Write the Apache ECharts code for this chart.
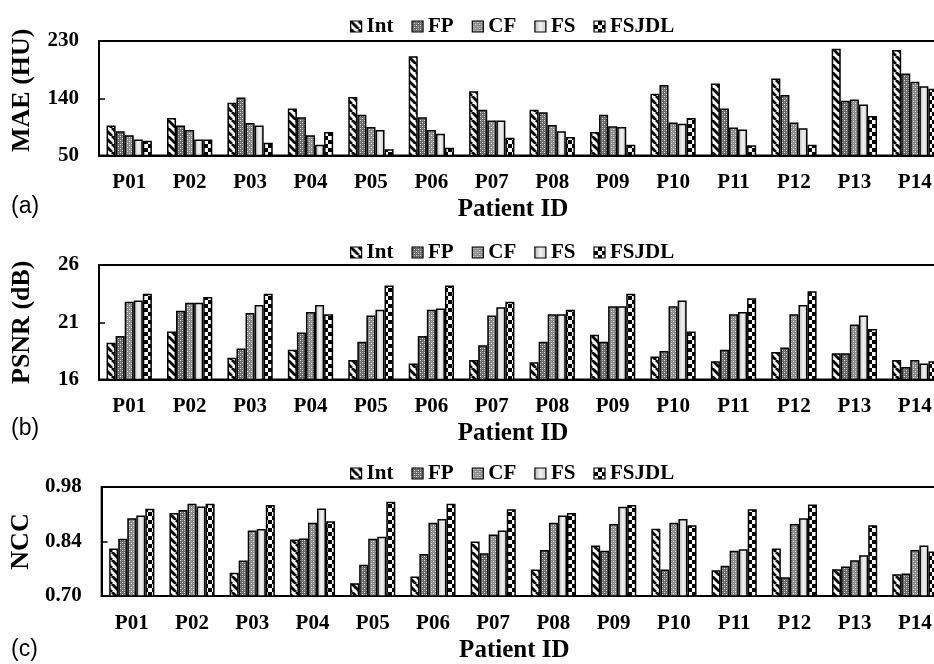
<!DOCTYPE html>
<html>
<head>
<meta charset="utf-8">
<script src="https://cdn.jsdelivr.net/npm/echarts@6/dist/echarts.min.js"></script>
<style>
html,body{margin:0;padding:0;background:#fff;overflow:hidden;width:934px;height:664px;}
#chart{width:960px;height:664px;}
</style>
</head>
<body>
<div id="chart"></div>
<script>
// ---- data ----
const categories = ['P01','P02','P03','P04','P05','P06','P07','P08','P09','P10','P11','P12','P13','P14'];
const methods = ['Int','FP','CF','FS','FSJDL'];

const maeInt   = [97, 109, 133, 124, 142, 206, 151, 122, 87, 147, 163, 171, 218, 216];
const maeFP    = [88, 97, 141, 110, 114, 110, 122, 118, 114, 161, 124, 145, 136, 179];
const maeCF    = [82, 90, 101, 82, 95, 90, 105, 98, 96, 102, 94, 102, 138, 166];
const maeFS    = [75, 75, 97, 67, 90, 84, 105, 88, 95, 100, 91, 93, 130, 159];
const maeFSJDL = [73, 75, 70, 87, 60, 62, 78, 79, 67, 109, 66, 67, 112, 155];

const psnrInt   = [19.2, 20.2, 17.9, 18.6, 17.7, 17.4, 17.7, 17.5, 19.9, 18.0, 17.6, 18.4, 18.3, 17.7];
const psnrFP    = [19.8, 22.0, 18.7, 20.1, 19.3, 19.8, 19.0, 19.3, 19.3, 18.5, 18.6, 18.8, 18.3, 17.1];
const psnrCF    = [22.8, 22.7, 21.8, 21.9, 21.6, 22.1, 21.6, 21.7, 22.4, 22.4, 21.7, 21.7, 20.8, 17.7];
const psnrFS    = [22.9, 22.7, 22.5, 22.5, 22.1, 22.2, 22.3, 21.7, 22.4, 22.9, 21.9, 22.5, 21.6, 17.4];
const psnrFSJDL = [23.5, 23.2, 23.5, 21.7, 24.2, 24.2, 22.8, 22.1, 23.5, 20.2, 23.1, 23.7, 20.4, 17.6];

const nccInt   = [0.822, 0.913, 0.760, 0.845, 0.733, 0.750, 0.840, 0.768, 0.830, 0.873, 0.766, 0.822, 0.769, 0.756];
const nccFP    = [0.847, 0.921, 0.791, 0.848, 0.780, 0.808, 0.810, 0.818, 0.816, 0.768, 0.778, 0.748, 0.776, 0.758];
const nccCF    = [0.900, 0.937, 0.868, 0.888, 0.847, 0.888, 0.858, 0.888, 0.885, 0.888, 0.816, 0.885, 0.792, 0.818];
const nccFS    = [0.907, 0.930, 0.872, 0.925, 0.852, 0.898, 0.868, 0.907, 0.929, 0.898, 0.820, 0.900, 0.805, 0.830];
const nccFSJDL = [0.924, 0.937, 0.934, 0.892, 0.942, 0.937, 0.923, 0.913, 0.934, 0.882, 0.923, 0.935, 0.882, 0.814];

const maeTicks  = [50, 140, 230];
const psnrTicks = [16, 21, 26];
const nccTicks  = [0.70, 0.84, 0.98];

const panelNames = ['MAE (HU)', 'PSNR (dB)', 'NCC'];
const panelTags = ['(a)', '(b)', '(c)'];

// ---- patterns ----
function tile(w, h, draw) {
  const c = document.createElement('canvas');
  c.width = w; c.height = h;
  const ctx = c.getContext('2d');
  draw(ctx);
  return {image: c, repeat: 'repeat'};
}
const patInt = tile(8, 8, ctx => {
  ctx.fillStyle = '#fff'; ctx.fillRect(0,0,8,8);
  ctx.strokeStyle = '#000'; ctx.lineWidth = 2.8;
  for (let k = -1; k <= 1; k++) {
    ctx.beginPath(); ctx.moveTo(k*8, 0); ctx.lineTo(k*8 + 8, 8); ctx.stroke();
  }
});
const patFP = tile(4, 4, ctx => {
  ctx.fillStyle = '#676767'; ctx.fillRect(0,0,4,4);
  ctx.fillStyle = '#e6e6e6'; ctx.fillRect(0,0,1,1); ctx.fillRect(2,2,1,1);
  ctx.fillStyle = '#a0a0a0'; ctx.fillRect(2,0,1,1); ctx.fillRect(0,2,1,1);
});
const patCF = tile(4, 4, ctx => {
  ctx.fillStyle = '#8a8a8a'; ctx.fillRect(0,0,4,4);
  ctx.fillStyle = '#ececec'; ctx.fillRect(1,1,1,1); ctx.fillRect(3,3,1,1);
  ctx.fillStyle = '#b0b0b0'; ctx.fillRect(3,1,1,1); ctx.fillRect(1,3,1,1);
});
const patFS = new echarts.graphic.LinearGradient(0, 0, 1, 0, [
  {offset: 0, color: '#b4b4b4'},
  {offset: 0.5, color: '#f2f2f2'},
  {offset: 1, color: '#c8c8c8'}
]);
const patFSJDL = tile(8, 8, ctx => {
  ctx.fillStyle = '#000'; ctx.fillRect(0,0,8,8);
  ctx.fillStyle = '#fff'; ctx.fillRect(0,0,4,4); ctx.fillRect(4,4,4,4);
});
const fills = [patInt, patFP, patCF, patFS, patFSJDL];

// ---- layout ----
const serif = '"Liberation Serif", "Times New Roman", serif';
const gridTops = [41, 265, 487];
const gridH = 114.5;
const legendTops = [11, 237, 458];
const tagY = [207, 429, 650];

const panelData = [
  [maeInt, maeFP, maeCF, maeFS, maeFSJDL],
  [psnrInt, psnrFP, psnrCF, psnrFS, psnrFSJDL],
  [nccInt, nccFP, nccCF, nccFS, nccFSJDL]
];
const panelTicks = [maeTicks, psnrTicks, nccTicks];
const fmt = [v => String(v), v => String(v), v => v.toFixed(2)];

const grid = [], xAxis = [], yAxis = [], legend = [], series = [], graphic = [];
for (let p = 0; p < 3; p++) {
  grid.push({left: 99, width: 846, top: gridTops[p], height: gridH, show: true,
             borderColor: '#000', borderWidth: 2, backgroundColor: 'transparent'});
  xAxis.push({
    type: 'category', gridIndex: p, data: categories,
    axisLine: {lineStyle: {color: '#000', width: 2}},
    axisTick: {show: false},
    axisLabel: {color: '#000', fontFamily: serif, fontWeight: 'bold', fontSize: 21, margin: 17},
    name: 'Patient ID', nameLocation: 'middle', nameGap: 42,
    nameTextStyle: {color: '#000', fontFamily: serif, fontWeight: 'bold', fontSize: 25, padding: [0, 18, 0, 0]}
  });
  const t = panelTicks[p];
  yAxis.push({
    type: 'value', gridIndex: p, min: t[0], max: t[t.length - 1],
    splitLine: {show: false},
    axisLine: {show: true, lineStyle: {color: '#000', width: 2}},
    axisTick: {show: true, inside: true, length: 6, lineStyle: {color: '#000', width: 1.5}, customValues: t},
    axisLabel: {color: '#000', fontFamily: serif, fontWeight: 'bold', fontSize: 21, margin: 20,
                customValues: t, formatter: fmt[p]},
    name: panelNames[p], nameLocation: 'middle', nameGap: 64, nameRotate: 90,
    nameTextStyle: {color: '#000', fontFamily: serif, fontWeight: 'bold', fontSize: 26,
                    padding: p === 0 ? [0, 0, 0, 16] : [0, 0, 0, 0]}
  });
  legend.push({
    data: methods, left: 345, top: legendTops[p], icon: 'rect',
    itemWidth: 11, itemHeight: 11, itemGap: 18,
    itemStyle: {borderColor: '#000', borderWidth: 1.2},
    textStyle: {color: '#000', fontFamily: serif, fontWeight: 'bold', fontSize: 21},
    selectedMode: false
  });
  for (let m = 0; m < methods.length; m++) {
    series.push({
      type: 'bar', name: methods[m], xAxisIndex: p, yAxisIndex: p,
      data: panelData[p][m], barGap: '0%', barCategoryGap: '25%',
      itemStyle: {color: fills[m], borderColor: '#000', borderWidth: 1.5},
      emphasis: {disabled: true}, animation: false
    });
  }
  graphic.push({type: 'text', left: 11, top: tagY[p] - 12,
    style: {text: panelTags[p], fill: '#000', font: '23px "Liberation Sans", Arial, sans-serif'}});
}

const chart = echarts.init(document.getElementById('chart'), null, {renderer: 'canvas'});
chart.setOption({
  animation: false,
  backgroundColor: '#fff',
  grid, xAxis, yAxis, legend, series, graphic
});
</script>
</body>
</html>
